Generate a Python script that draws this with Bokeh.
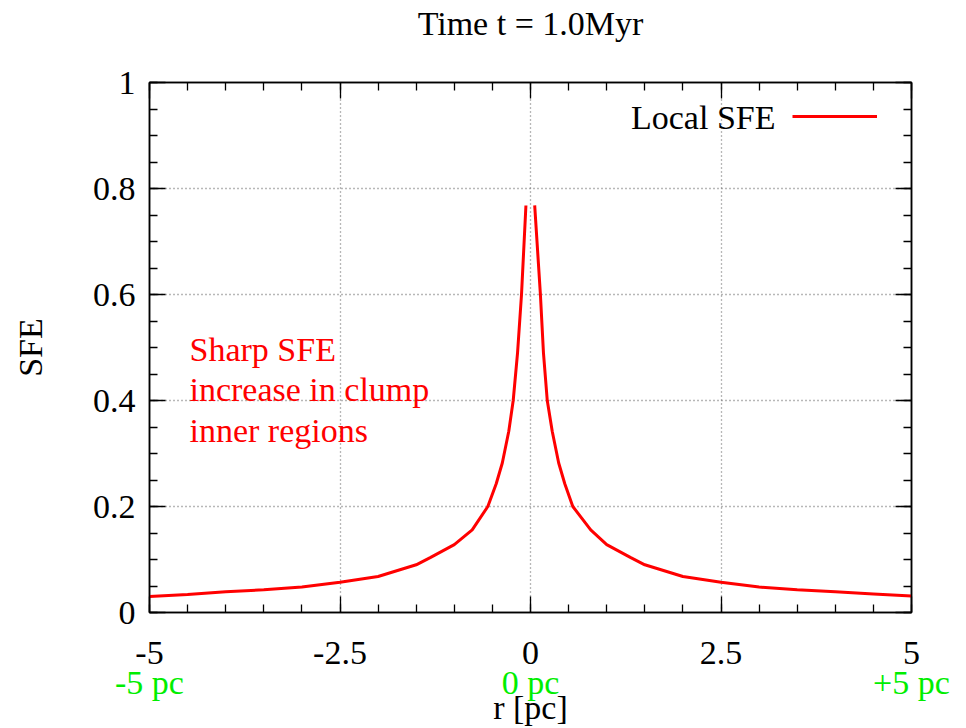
from bokeh.plotting import figure
from bokeh.models import (LinearAxis, FixedTicker, Label, Legend, LegendItem,
                          Range1d)
from bokeh.embed import file_html
from bokeh.resources import INLINE

# ---- data ----
r_left = [-5.0, -4.5, -4.0, -3.5, -3.0, -2.5, -2.0, -1.5, -1.31, -1.0, -0.765,
          -0.56, -0.45, -0.37, -0.285, -0.227, -0.17, -0.118, -0.06]
sfe_left = [0.030, 0.034, 0.039, 0.043, 0.048, 0.057, 0.068, 0.090, 0.104, 0.128,
            0.156, 0.200, 0.243, 0.282, 0.342, 0.400, 0.490, 0.600, 0.768]
r_right = [0.055, 0.13, 0.17, 0.22, 0.285, 0.37, 0.45, 0.555, 0.79, 1.0, 1.31,
           1.5, 2.0, 2.5, 3.0, 3.5, 4.0, 4.5, 5.0]
sfe_right = [0.768, 0.600, 0.490, 0.400, 0.342, 0.282, 0.243, 0.200, 0.156, 0.128,
             0.104, 0.090, 0.068, 0.057, 0.048, 0.043, 0.039, 0.035, 0.031]

x_ticks = [-5, -2.5, 0, 2.5, 5]
x_tick_labels = ["-5", "-2.5", "0", "2.5", "5"]
pc_ticks = [-5, 0, 5]
pc_labels = ["-5 pc", "0 pc", "+5 pc"]
y_ticks = [0, 0.2, 0.4, 0.6, 0.8, 1]
y_tick_labels = ["0", "0.2", "0.4", "0.6", "0.8", "1"]
x_minor = [-5 + 0.5 * i for i in range(21)]
y_minor = [0.05 * i for i in range(21)]

title_text = "Time t = 1.0Myr"
series_name = "Local SFE"
note_lines = ["Sharp SFE", "increase in clump", "inner regions"]
note_y = [0.497, 0.421, 0.343]

FONT = "Liberation Serif"
FS = "34px"

p = figure(width=966, height=728, x_range=Range1d(-5, 5), y_range=Range1d(0, 1),
           output_backend="svg", toolbar_location=None,
           x_axis_location=None, y_axis_location=None,
           min_border_left=149, min_border_right=55,
           min_border_top=82, min_border_bottom=115)
p.outline_line_color = "black"
p.outline_line_width = 1.5
p.background_fill_color = "white"
p.border_fill_color = "white"

xt = FixedTicker(ticks=x_ticks, minor_ticks=x_minor)
yt = FixedTicker(ticks=y_ticks, minor_ticks=y_minor)


def style_axis(ax):
    ax.major_tick_in = 16
    ax.major_tick_out = 0
    ax.minor_tick_in = 8
    ax.minor_tick_out = 0
    ax.major_tick_line_color = "black"
    ax.minor_tick_line_color = "black"
    ax.major_tick_line_width = 1.3
    ax.minor_tick_line_width = 1.3
    ax.axis_line_color = "black"
    ax.axis_line_width = 1.5
    ax.major_label_text_font = FONT
    ax.major_label_text_font_size = FS
    ax.major_label_text_color = "black"
    ax.axis_label_text_font = FONT
    ax.axis_label_text_font_size = FS
    ax.axis_label_text_font_style = "normal"
    ax.axis_label_text_color = "black"


# bottom axis with numeric labels
xb = LinearAxis(ticker=xt, major_label_overrides=dict(zip(x_ticks, x_tick_labels)))
style_axis(xb)
xb.major_label_standoff = 29
p.add_layout(xb, "below")

# second bottom axis with green pc labels and axis title
pcs = FixedTicker(ticks=pc_ticks, minor_ticks=[])
xb2 = LinearAxis(ticker=pcs, major_label_overrides=dict(zip(pc_ticks, pc_labels)),
                 axis_label="r [pc]")
style_axis(xb2)
xb2.major_tick_in = 0
xb2.minor_tick_in = 0
xb2.axis_line_color = None
xb2.major_label_text_color = "#00ee00"
xb2.major_label_standoff = -3
xb2.axis_label_standoff = -15
p.add_layout(xb2, "below")

# left axis
yl = LinearAxis(ticker=yt, major_label_overrides=dict(zip(y_ticks, y_tick_labels)),
                axis_label="SFE")
style_axis(yl)
yl.major_label_standoff = 14
yl.axis_label_standoff = 41
p.add_layout(yl, "left")

# top axis: mirrored ticks, carries the plot title as its label
xa = LinearAxis(ticker=xt, major_label_overrides={t: "" for t in x_ticks},
                axis_label=title_text)
style_axis(xa)
xa.major_label_text_font_size = "1px"
xa.major_label_standoff = 0
xa.axis_label_standoff = 41
p.add_layout(xa, "above")

# right axis: mirrored ticks only
yr = LinearAxis(ticker=yt, major_label_overrides={t: "" for t in y_ticks})
style_axis(yr)
yr.major_label_text_font_size = "1px"
yr.major_label_standoff = 0
p.add_layout(yr, "right")

# grid
p.xgrid.ticker = FixedTicker(ticks=x_ticks)
p.ygrid.ticker = FixedTicker(ticks=y_ticks)
for g in (p.xgrid[0], p.ygrid[0]):
    g.grid_line_color = "#707070"
    g.grid_line_dash = "1 3"
    g.grid_line_width = 1.3

# data
rl = p.line(r_left, sfe_left, line_color="red", line_width=3)
rr = p.line(r_right, sfe_right, line_color="red", line_width=3)

# legend (sample to the right of its label, as in gnuplot)
leg = Legend(items=[LegendItem(label=" ", renderers=[rl])], location=(643, 486),
             glyph_width=85, glyph_height=20, label_height=20, label_width=1,
             padding=0, margin=0, spacing=0, label_standoff=0,
             border_line_color=None, background_fill_alpha=0,
             label_text_font_size="10px")
p.add_layout(leg)
p.add_layout(Label(x=3.215, y=0.934, text=series_name, text_align="right",
                   text_baseline="middle", text_font=FONT, text_font_size=FS,
                   text_color="black"))

# annotation
for line_text, yy in zip(note_lines, note_y):
    p.add_layout(Label(x=-4.475, y=yy, text=line_text, text_align="left",
                       text_baseline="alphabetic", text_font=FONT,
                       text_font_size=FS, text_color="red"))

open("out.html", "w").write(file_html(p, INLINE))
